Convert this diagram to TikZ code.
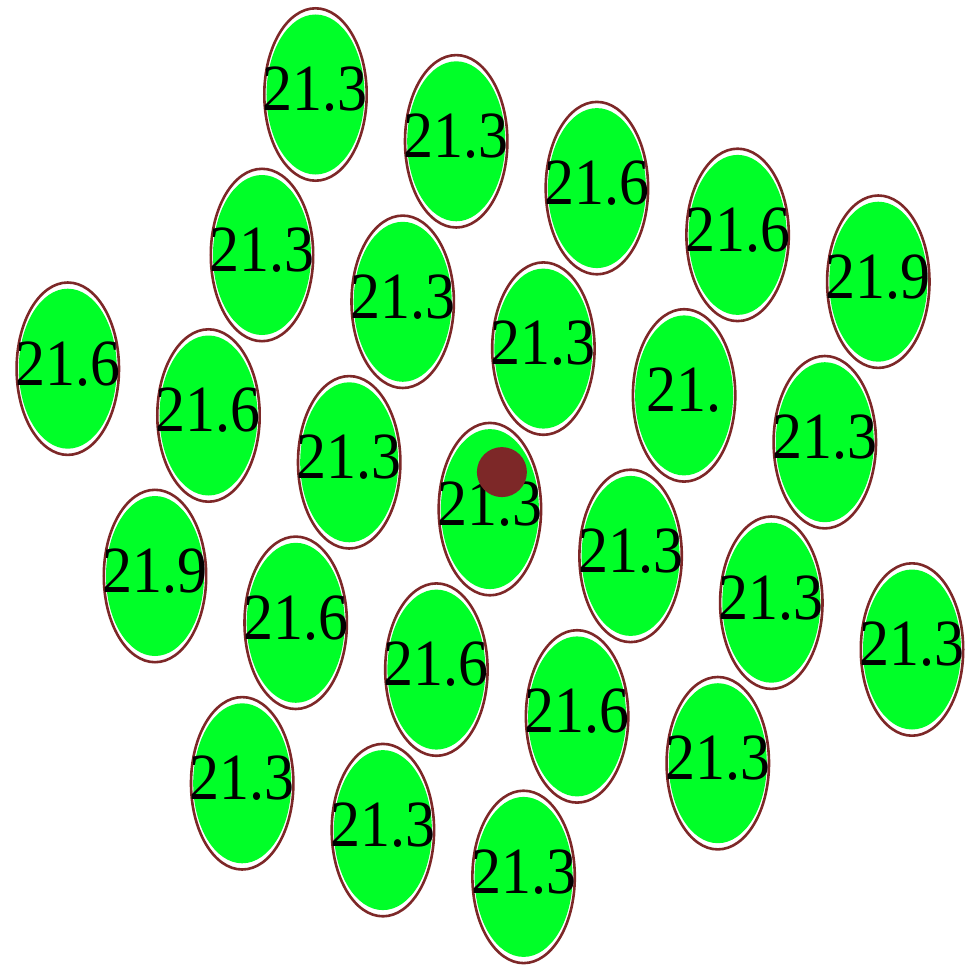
\documentclass[tikz,border=0pt]{standalone}
\usepackage{fontspec}
\setmainfont{Liberation Serif}
\usetikzlibrary{calc,shapes.geometric,positioning}
\definecolor{rodGreen}{RGB}{0,255,40}
\definecolor{rodBrown}{RGB}{125,40,40}
\tikzset{
myRod/.style={
	ellipse, draw=rodBrown, fill=white, line width=2.6pt,
	inner sep=0pt, minimum width=102.4pt, minimum height=172.4pt,
	path picture = {
		\fill[rodGreen] (path picture bounding box.center) ellipse (49pt and 80pt);
	}
}
, myValue/.style={
	inner sep=0pt, text=black, yshift=5pt,
	yscale=1.1, transform shape,
	font=\fontsize{60}{60}\selectfont
}
, myPin/.style={
	circle, fill=rodBrown, inner sep=0pt, minimum size=50pt
}
}

\begin{document}
\begin{tikzpicture}[x={(140.7pt,-46.8pt)},y={(-53.5pt,-160.5pt)}]
	\useasboundingbox (-315.5pt,94.5pt) rectangle (648.5pt,-871.5pt);
	% first row
	\node[myRod, label={[myValue]center:21.3}] (r1) at (0,0) {};
	\node[myRod, label={[myValue]center:21.3}] (r2) at (1,0) {};
	\node[myRod, label={[myValue]center:21.6}] (r3) at (2,0) {};
	\node[myRod, label={[myValue]center:21.6}] (r4) at (3,0) {};
	\node[myRod, label={[myValue]center:21.9}] (r5) at (4,0) {};
	% second row
	\node[myRod, label={[myValue]center:21.3}] (r6) at (0,1) {};
	\node[myRod, label={[myValue]center:21.3}] (r7) at (1,1) {};
	\node[myRod, label={[myValue]center:21.3}] (r8) at (2,1) {};
	\node[myRod, label={[myValue]center:21.}] (r9) at (3,1) {};
	\node[myRod, label={[myValue]center:21.3}] (r10) at (4,1) {};
	% third row
	\node[myRod, label={[myValue]center:21.6}] (r11) at (-1,2) {};
	\node[myRod, label={[myValue]center:21.6}] (r12) at (0,2) {};
	\node[myRod, label={[myValue]center:21.3}] (r13) at (1,2) {};
	\node[myRod, label={[myValue]center:21.3}] (r14) at (2,2) {};
	\node[myRod, label={[myValue]center:21.3}] (r15) at (3,2) {};
	\node[myRod, label={[myValue]center:21.3}] (r16) at (4,2) {};
	\node[myRod, label={[myValue]center:21.3}] (r17) at (5,2) {};
	% fourth row
	\node[myRod, label={[myValue]center:21.9}] (r18) at (0,3) {};
	\node[myRod, label={[myValue]center:21.6}] (r19) at (1,3) {};
	\node[myRod, label={[myValue]center:21.6}] (r20) at (2,3) {};
	\node[myRod, label={[myValue]center:21.6}] (r21) at (3,3) {};
	\node[myRod, label={[myValue]center:21.3}] (r22) at (4,3) {};
	% last row
	\node[myRod, label={[myValue]center:21.3}] (r23) at (1,4) {};
	\node[myRod, label={[myValue]center:21.3}] (r24) at (2,4) {};
	\node[myRod, label={[myValue]center:21.3}] (r25) at (3,4) {};
	% pin
	\node[myPin] (pin) at ($(r14.center)+(12pt,37pt)$) {};
\end{tikzpicture}
\end{document}
